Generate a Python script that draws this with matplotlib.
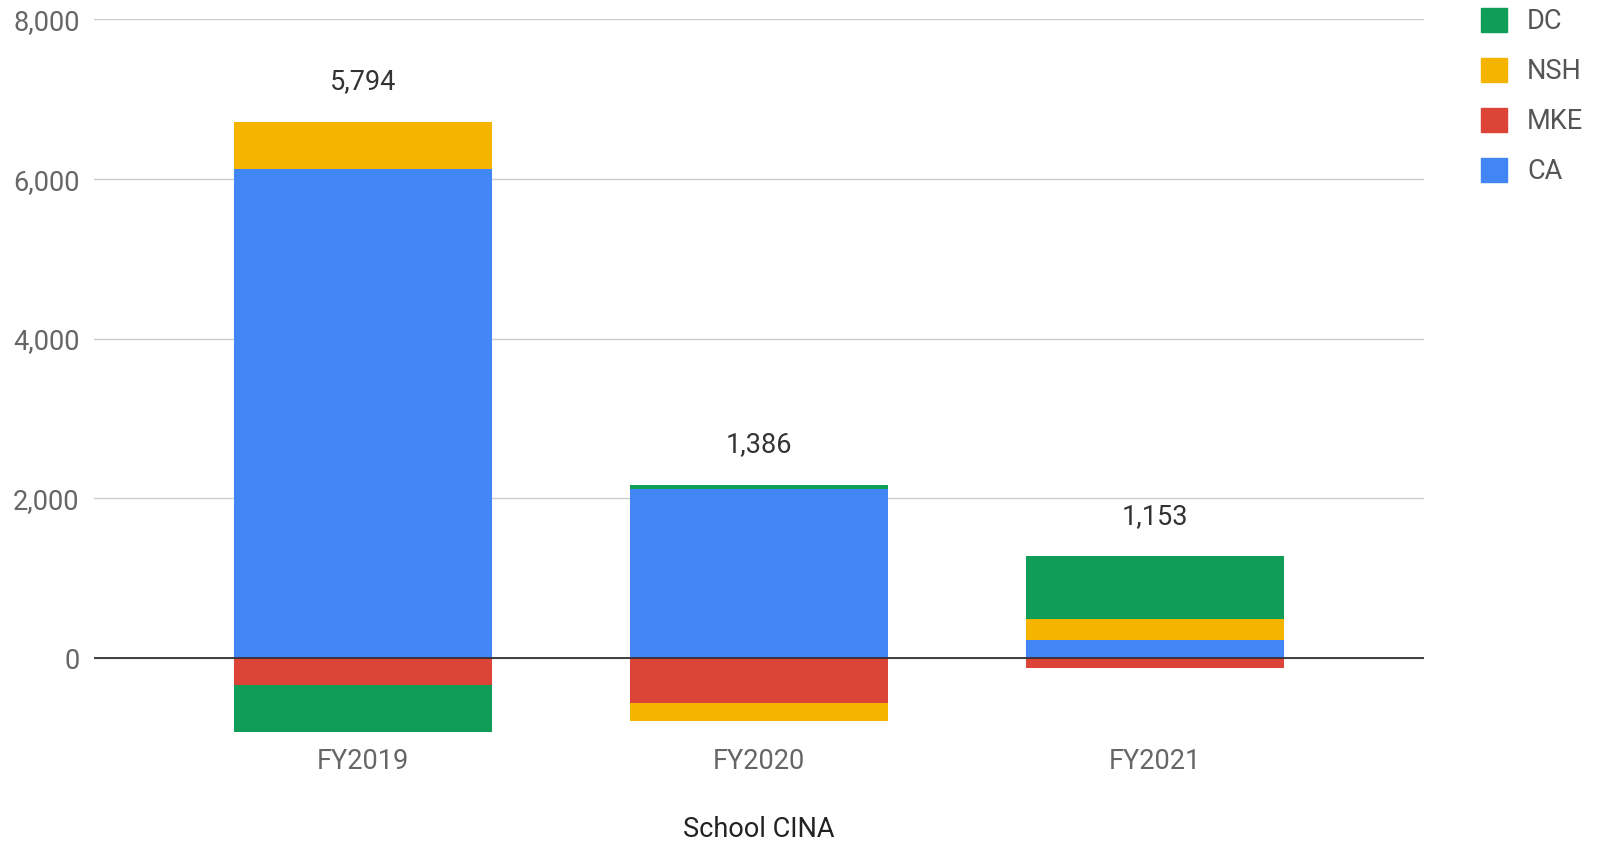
import matplotlib

matplotlib.use("Agg")
import matplotlib.pyplot as plt
import numpy as np
from matplotlib.patches import Patch

plt.rcParams["font.family"] = ["Roboto", "DejaVu Sans"]

# data
years = ["FY2019", "FY2020", "FY2021"]
series = ["CA", "MKE", "NSH", "DC"]  # stacking order, bottom to top
ca = [6130, 2118, 232]
mke = [-335, -562, -122]
nsh = [590, -220, 258]
dc = [-591, 50, 785]
colors = {"CA": "#4285F4", "MKE": "#DB4437", "NSH": "#F4B400", "DC": "#0F9D58"}

values = {"CA": ca, "MKE": mke, "NSH": nsh, "DC": dc}

fig = plt.figure(figsize=(16, 8.42), dpi=100)
ax = fig.add_axes([0.0585, 0.1235, 0.8316, 0.8535])

x = np.arange(len(years))
width = 0.65
pos_base = np.zeros(len(years))
neg_base = np.zeros(len(years))
for name in series:
    v = np.array(values[name], dtype=float)
    base = np.where(v >= 0, pos_base, neg_base)
    ax.bar(x, v, width, bottom=base, color=colors[name], linewidth=0, zorder=3)
    pos_base += np.where(v >= 0, v, 0)
    neg_base += np.where(v < 0, v, 0)

totals = pos_base + neg_base
for xi, top, tot in zip(x, pos_base, totals):
    ax.annotate(f"{tot:,.0f}", (xi, top), xytext=(0, 29), textcoords="offset points",
                ha="center", va="center", fontsize=19.5, color="#333333")

ax.set_xlim(-0.68, 2.68)
ax.set_ylim(-1000, 8000)
ax.set_yticks([0, 2000, 4000, 6000, 8000])
ax.set_yticklabels([f"{t:,}" for t in [0, 2000, 4000, 6000, 8000]])
ax.set_xticks(x)
ax.set_xticklabels(years)
ax.tick_params(axis="both", length=0, labelsize=19.5, labelcolor="#666666")
ax.tick_params(axis="y", pad=10)
ax.tick_params(axis="x", pad=7)
ax.grid(axis="y", color="#cccccc", linewidth=1, zorder=0)
ax.axhline(0, color="#333333", linewidth=1.3, zorder=4)
for s in ax.spines.values():
    s.set_visible(False)
ax.set_xlabel("School CINA", fontsize=19.5, color="#222222", labelpad=30)

handles = [Patch(color=colors[n], label=n) for n in ["DC", "NSH", "MKE", "CA"]]
leg = fig.legend(handles=handles, loc="upper left", bbox_to_anchor=(0.9103, 1.019),
                 frameon=False, fontsize=19.5, handlelength=0.95, handleheight=0.95,
                 labelspacing=0.85, handletextpad=0.75)
for t in leg.get_texts():
    t.set_color("#555555")

fig.savefig("out.png", dpi=100)
